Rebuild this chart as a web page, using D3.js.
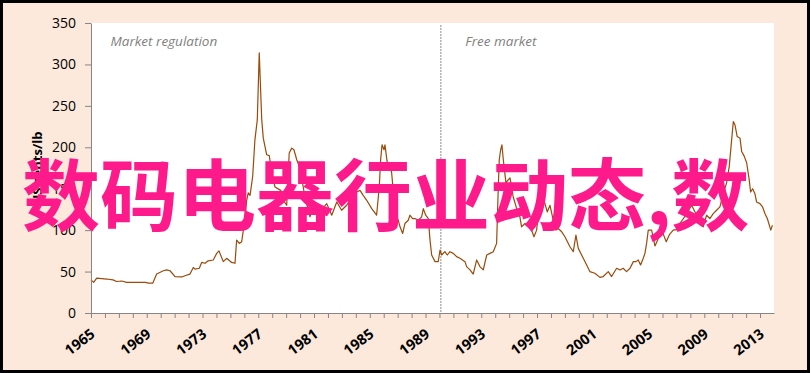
<!DOCTYPE html>
<html><head><meta charset="utf-8">
<script src="https://cdn.jsdelivr.net/npm/d3@7"></script>
<style>html,body{margin:0;padding:0;background:#fff}svg{display:block}</style>
</head><body>
<svg id="c" width="811" height="373"></svg>
<script>
// Decimal years of the sampled points
const dates = [1965.00,1965.19,1965.41,1966.13,1966.58,1966.84,1967.20,1967.56,1968.23,1968.92,1969.11,1969.43,1969.71,1970.19,1970.43,1970.67,1971.03,1971.51,1971.74,1972.10,1972.34,1972.46,1972.77,1972.94,1973.18,1973.41,1973.77,1974.02,1974.18,1974.49,1974.73,1975.09,1975.33,1975.45,1975.64,1975.81,1975.93,1976.17,1976.28,1976.41,1976.60,1976.76,1976.93,1977.07,1977.25,1977.36,1977.60,1977.79,1977.96,1978.20,1978.61,1978.80,1979.04,1979.22,1979.40,1979.56,1979.76,1979.99,1980.35,1980.71,1980.95,1981.28,1981.57,1981.91,1982.27,1982.63,1982.98,1983.34,1983.65,1984.06,1984.30,1984.53,1984.78,1985.14,1985.49,1985.68,1985.78,1985.88,1986.02,1986.09,1986.21,1986.33,1986.45,1986.57,1986.81,1987.04,1987.17,1987.36,1987.52,1987.76,1987.88,1988.07,1988.24,1988.48,1988.72,1988.84,1989.01,1989.20,1989.32,1989.44,1989.68,1989.91,1990.04,1990.16,1990.39,1990.56,1990.75,1990.99,1991.23,1991.47,1991.83,1991.95,1992.19,1992.42,1992.67,1992.90,1993.14,1993.39,1993.62,1993.86,1994.10,1994.22,1994.29,1994.39,1994.48,1994.58,1994.77,1994.94,1995.06,1995.29,1995.54,1995.77,1995.89,1996.13,1996.37,1996.61,1996.78,1996.97,1997.09,1997.33,1997.57,1997.73,1997.93,1998.16,1998.36,1998.52,1998.77,1999.00,1999.36,1999.60,1999.79,1999.96,2000.20,2000.56,2000.79,2001.15,2001.51,2001.75,2002.11,2002.35,2002.71,2002.95,2003.18,2003.42,2003.67,2003.91,2004.10,2004.26,2004.43,2004.62,2004.74,2004.86,2004.98,2005.22,2005.46,2005.70,2005.94,2006.27,2006.51,2006.77,2007.12,2007.24,2007.68,2008.09,2008.39,2008.68,2008.92,2009.16,2009.40,2009.64,2009.88,2010.12,2010.36,2010.60,2010.79,2010.96,2011.08,2011.20,2011.36,2011.56,2011.68,2011.87,2012.04,2012.22,2012.32,2012.47,2012.63,2012.75,2012.99,2013.18,2013.35,2013.52,2013.77,2013.89];
// Price, US cents/lb
const prices = [40,37,42,41,40,38,38.6,37,37,37,36,36,47,51,52,51,44,43.5,45,47,55,53,54,61,60,63,64,72,75,62,66,61,60,88,84,86,100,136,145,142,165,209,233,314,233,211,191,190,170,152,148,136,130,193,199,197,185,175,140,116,128,118,125,132,118,134,124,130,138,146,148,142,136,126,118,152,185,203,197,203,187,173,181,169,124,112,104,96,108,112,118,114,114,112,116,126,118,114,88,70,62,62,76,70,74,70,74,72,68,66,62,56,52,47,64,56,52,70,72,74,84,152,185,197,203,185,157,161,163,140,126,116,104,108,104,100,92,100,120,140,132,122,130,112,100,102,98,92,80,74,94,78,70,58,50,48,43,44,50,44,54,52,54,50,54,62,62,64,58,66,72,84,100,100,81,90,100,86,95,100,101,108,118,130,120,108,104,118,114,120,124,128,144,157,177,209,231,227,213,211,195,189,181,161,146,150,144,134,132,128,120,114,100,106];
const yTicks = [0,50,100,150,200,250,300,350];
const tickYears = d3.range(1965, 2014);
const labelYears = [1965,1969,1973,1977,1981,1985,1989,1993,1997,2001,2005,2009,2013];
const yTitle = "US cents/lb";
const annotations = [{text:"Market regulation", year:1966.4}, {text:"Free market", year:1991.85}];
const divider = 1990.1;
const overlay = "数码电器行业动态,数";

const svg = d3.select("#c");
const W = 811, H = 373;
const x = d3.scaleLinear().domain([1965, 2014]).range([91, 774]);
const y = d3.scaleLinear().domain([0, 350]).range([313, 23]);

svg.append("rect").attr("x",1.5).attr("y",1.5).attr("width",W-4).attr("height",H-3)
  .attr("fill","#FCE9DB").attr("stroke","#000").attr("stroke-width",3);
svg.append("rect").attr("x",x(1965)).attr("y",y(350)).attr("width",x(2014)-x(1965)).attr("height",y(0)-y(350)).attr("fill","#fff");

// divider
svg.append("line").attr("x1",x(divider)).attr("x2",x(divider)).attr("y1",y(350)+2).attr("y2",y(0))
  .attr("stroke","#8c8c8c").attr("stroke-width",1).attr("stroke-dasharray","2,1");

// annotations
svg.selectAll("text.ann").data(annotations).join("text").attr("class","ann")
  .attr("x",d=>x(d.year)).attr("y",46).text(d=>d.text)
  .attr("font-family","'Open Sans', sans-serif").attr("font-style","italic").attr("font-size",13.5).attr("fill","#7F7F7F");

// line
const line = d3.line().x((d,i)=>x(dates[i])).y((d,i)=>y(prices[i]));
svg.append("path").datum(prices).attr("d",line).attr("fill","none").attr("stroke","#9A4A0A").attr("stroke-width",1.2).attr("stroke-linejoin","round");

// y axis
const ya = svg.append("g").attr("transform",`translate(${x(1965)},0)`)
  .call(d3.axisLeft(y).tickValues(yTicks).tickSize(6).tickSizeOuter(0).tickPadding(9));
ya.select(".domain").attr("stroke","#868686");
ya.selectAll(".tick line").attr("stroke","#868686");
ya.selectAll(".tick text").attr("font-family","'Open Sans', sans-serif").attr("font-size",14).attr("fill","#000");

// x axis
const xa = svg.append("g").attr("transform",`translate(0,${y(0)})`)
  .call(d3.axisBottom(x).tickValues(tickYears).tickSize(5).tickSizeOuter(0).tickFormat(""));
xa.select(".domain").attr("stroke","#868686");
xa.selectAll(".tick line").attr("stroke","#868686");
svg.selectAll("text.xl").data(labelYears).join("text").attr("class","xl")
  .attr("transform",d=>`translate(${x(d)+5},${y(0)+23}) rotate(-37)`)
  .attr("text-anchor","end").text(d=>d)
  .attr("font-family","'Open Sans', sans-serif").attr("font-weight",700).attr("font-size",14.5).attr("fill","#000");

// y title
svg.append("text").attr("transform",`translate(42,${(y(0)+y(350))/2}) rotate(-90)`)
  .attr("text-anchor","middle").text(yTitle)
  .attr("font-family","'Open Sans', sans-serif").attr("font-weight",700).attr("font-size",13).attr("fill","#000");

// overlay
svg.append("text").attr("x",22).attr("y",225).text(overlay)
  .attr("font-family","'Noto Sans CJK SC', sans-serif").attr("font-weight",700).attr("font-size",78).attr("fill","#FF1A8C");
</script>
</body></html>
